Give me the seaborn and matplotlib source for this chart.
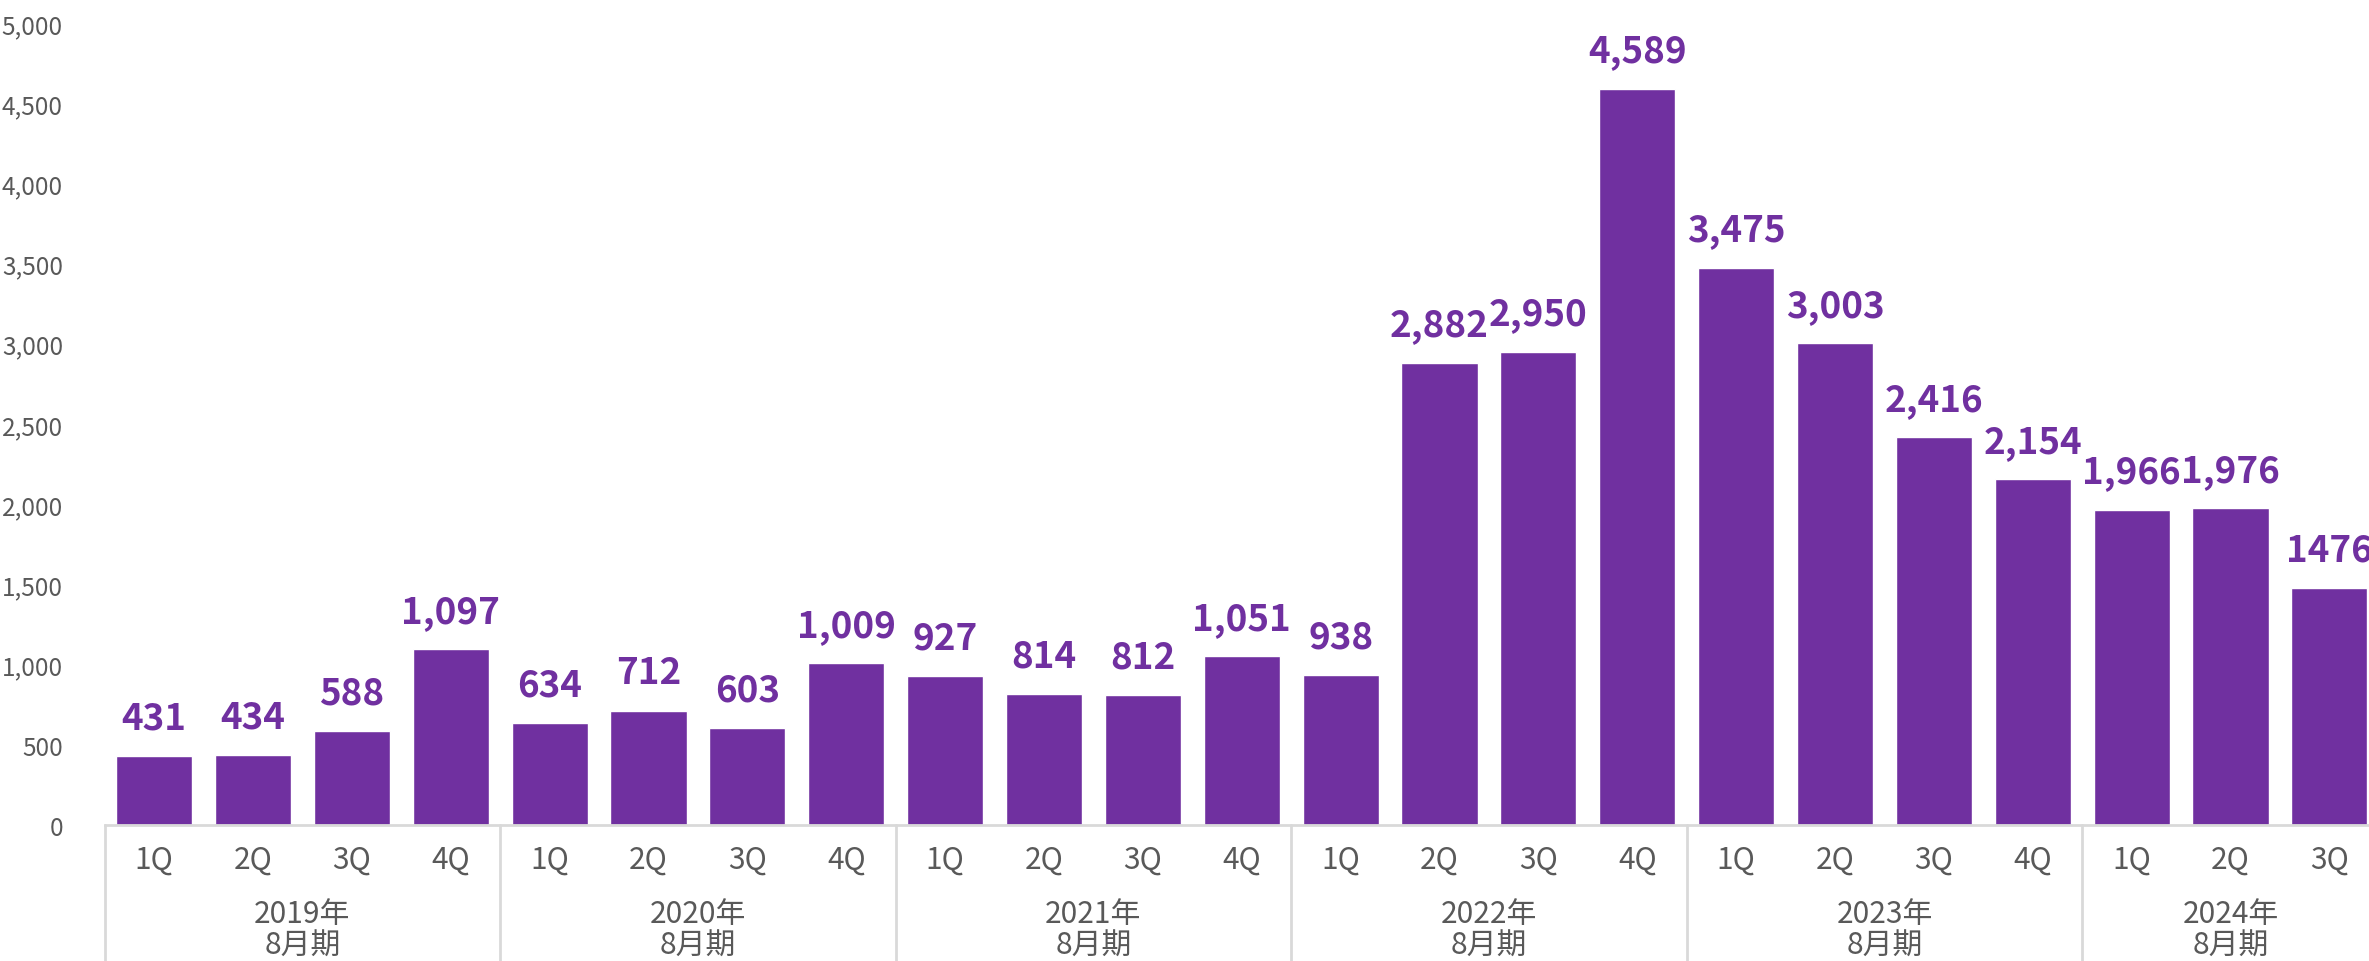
import pandas as pd
import matplotlib.pyplot as plt
import seaborn as sns

# 데이터
years = ["2019年", "2020年", "2021年", "2022年", "2023年", "2024年"]
year_sub = "8月期"
quarters_per_year = [4, 4, 4, 4, 4, 3]
quarter_names = ["1Q", "2Q", "3Q", "4Q"]
values = [431, 434, 588, 1097,
          634, 712, 603, 1009,
          927, 814, 812, 1051,
          938, 2882, 2950, 4589,
          3475, 3003, 2416, 2154,
          1966, 1976, 1476]
value_labels = ["431", "434", "588", "1,097",
                "634", "712", "603", "1,009",
                "927", "814", "812", "1,051",
                "938", "2,882", "2,950", "4,589",
                "3,475", "3,003", "2,416", "2,154",
                "1,966", "1,976", "1476"]

rows = []
for y, n in zip(years, quarters_per_year):
    for q in quarter_names[:n]:
        rows.append({"key": f"{y}-{q}", "year": y, "quarter": q})
df = pd.DataFrame(rows)
df["value"] = values

PURPLE = "#7030A0"
GREY = "#595959"
LINE = "#D9D9D9"

sns.set_style("white")
plt.rcParams["font.family"] = ["Noto Sans CJK JP", "DejaVu Sans"]

fig = plt.figure(figsize=(23.69, 9.62), dpi=100)
ax = fig.add_axes([0.04416, 0.1414, 0.960, 0.8337])

sns.barplot(data=df, x="key", y="value", color=PURPLE, width=0.77,
            saturation=1, ax=ax)

ax.set_xlim(-0.5, len(df) - 0.5)
ax.set_ylim(0, 5000)
ax.set_yticks(range(0, 5001, 500))
ax.set_yticklabels([f"{v:,}" for v in range(0, 5001, 500)])
ax.tick_params(axis="y", length=0, pad=30, labelsize=17.5, labelcolor=GREY)
ax.set_xticks([])
ax.set_xlabel("")
ax.set_ylabel("")
for s in ["top", "right", "left"]:
    ax.spines[s].set_visible(False)
ax.spines["bottom"].set_color(LINE)
ax.spines["bottom"].set_linewidth(2)

# 막대 라벨
ax.bar_label(ax.containers[0], labels=value_labels, padding=14,
             color=PURPLE, fontsize=26.5, fontweight="bold")

trans = ax.get_xaxis_transform()
# 분기 라벨
for i, q in enumerate(df["quarter"]):
    ax.text(i, -0.0536, q, transform=trans, ha="center", va="baseline",
            fontsize=21.5, color=GREY)

# 연도 라벨 + 구분선
start = 0
for y, n in zip(years, quarters_per_year):
    center = start + (n - 1) / 2
    ax.text(center, -0.1209, y, transform=trans, ha="center", va="baseline",
            fontsize=21.5, color=GREY)
    ax.text(center, -0.1608, year_sub, transform=trans, ha="center",
            va="baseline", fontsize=21.5, color=GREY)
    ax.plot([start - 0.5, start - 0.5], [0, -0.25], transform=trans,
            color=LINE, lw=2, clip_on=False)
    start += n

fig.savefig("out.png", dpi=100)
